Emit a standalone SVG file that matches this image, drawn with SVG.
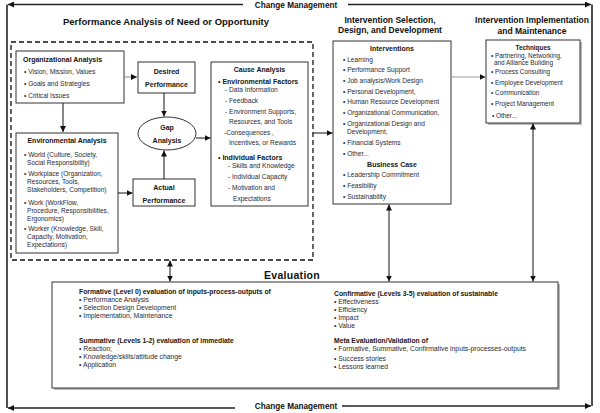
<svg xmlns="http://www.w3.org/2000/svg" width="600" height="413" viewBox="0 0 600 413">
<style>
text{font-family:"Liberation Sans",Arial,sans-serif;fill:#2a2a35}
.b{font-weight:bold;fill:#151515}
.t9{font-size:9.5px;font-weight:bold;fill:#111}
.t8{font-size:8.5px;font-weight:bold;fill:#111}
.cm{font-size:8.2px;font-weight:bold;fill:#111}
.s7{font-size:7px}
.s66{font-size:6.6px}
.s65{font-size:6.4px}
.s68{font-size:6.8px}
.m{text-anchor:middle}
.box{fill:#fff;stroke:#333;stroke-width:1}
.shadow{fill:#b8b8b8}
.ln{stroke:#111;stroke-width:1;fill:none}
.gl{stroke:#999;stroke-width:1.2;fill:none}
.fr{stroke:#222;stroke-width:1.6;fill:none}
.dash{fill:none;stroke:#111;stroke-width:1.3;stroke-dasharray:5 3}
</style>
<defs>
<marker id="ah" viewBox="0 0 6 6" refX="6" refY="3" markerWidth="6" markerHeight="6" markerUnits="userSpaceOnUse" orient="auto-start-reverse">
<path d="M0,0 L6,3 L0,6 z" fill="#111"/>
</marker>
</defs>
<rect width="600" height="413" fill="#fff"/>

<g id="frame">
<line class="fr" x1="243" y1="4.5" x2="8" y2="4.5" marker-end="url(#ah)"/>
<line class="fr" x1="348" y1="4.5" x2="591" y2="4.5" marker-end="url(#ah)"/>
<line class="fr" x1="7" y1="4.5" x2="7" y2="408"/>
<line class="fr" x1="592" y1="4.5" x2="592" y2="406"/>
<line class="fr" x1="235" y1="408" x2="8" y2="408" marker-end="url(#ah)"/>
<line class="fr" x1="342" y1="406" x2="591" y2="406" marker-end="url(#ah)"/>
<text class="cm m" x="296" y="7.5">Change Management</text>
<text class="cm m" x="296" y="408.5">Change Management</text>
</g>

<g id="titles">
<text class="t9 m" x="166" y="24.5">Performance Analysis of Need or Opportunity</text>
<text class="t8 m" x="390" y="22.5">Intervention Selection,</text>
<text class="t8 m" x="390" y="33">Design, and Development</text>
<text class="t8 m" x="532" y="23">Intervention Implementation</text>
<text class="t8 m" x="532" y="33.5">and Maintenance</text>
</g>

<rect id="performance-analysis-area" class="dash" x="11" y="42" width="302" height="218"/>

<g id="organizational-analysis">
<rect class="box" x="16" y="51" width="108" height="52"/>
<text class="b s7" x="23" y="61.5">Organizational Analysis</text>
<text class="s66" x="24" y="73.5">• Vision, Mission, Values</text>
<text class="s66" x="24" y="85.5">• Goals and Strategies</text>
<text class="s66" x="24" y="98">• Critical Issues</text>
</g>

<g id="desired-performance">
<rect class="box" x="138" y="62" width="57" height="31"/>
<text class="b s7 m" x="166.5" y="73.5">Desired</text>
<text class="b s7 m" x="166.5" y="86.5">Performance</text>
</g>

<g id="gap-analysis">
<ellipse cx="167" cy="133.5" rx="29" ry="16.5" fill="#fff" stroke="#333" stroke-width="1"/>
<text class="b s7 m" x="167" y="129.5">Gap</text>
<text class="b s7 m" x="167" y="142.5">Analysis</text>
</g>

<g id="environmental-analysis">
<rect class="box" x="16" y="133" width="102" height="120"/>
<text class="b s7 m" x="67" y="142.5">Environmental Analysis</text>
<text class="s66" x="24" y="156.5">• World (Culture, Society,</text>
<text class="s66" x="27" y="164.5">Social Responsibility)</text>
<text class="s66" x="24" y="175.5">• Workplace (Organization,</text>
<text class="s66" x="27" y="183.5">Resources, Tools,</text>
<text class="s66" x="27" y="192">Stakeholders, Competition)</text>
<text class="s66" x="24" y="204.5">• Work (WorkFlow,</text>
<text class="s66" x="27" y="212.5">Procedure, Responsibilities,</text>
<text class="s66" x="27" y="221">Ergonomics)</text>
<text class="s66" x="24" y="230.5">• Worker (Knowledge, Skill,</text>
<text class="s66" x="27" y="238.5">Capacity, Motivation,</text>
<text class="s66" x="27" y="247">Expectations)</text>
</g>

<g id="actual-performance">
<rect class="box" x="133" y="179" width="62" height="27"/>
<text class="b s7 m" x="164" y="189.5">Actual</text>
<text class="b s7 m" x="164" y="202.5">Performance</text>
</g>

<g id="cause-analysis">
<rect class="box" x="211" y="62" width="97" height="144"/>
<text class="b s7 m" x="259.5" y="71.5">Cause Analysis</text>
<text class="b s7" x="218" y="84">• Environmental Factors</text>
<text class="s66" x="225" y="91.5">- Data Information</text>
<text class="s66" x="225" y="102.5">- Feedback</text>
<text class="s66" x="225" y="113.5">- Environment Supports,</text>
<text class="s66" x="229" y="124">Resources, and Tools</text>
<text class="s66" x="224" y="135">-Consequences ,</text>
<text class="s66" x="229" y="145">Incentives, or Rewards</text>
<text class="b s7" x="218" y="160">• Individual Factors</text>
<text class="s66" x="228" y="168">- Skills and Knowledge</text>
<text class="s66" x="228" y="179">- Individual Capacity</text>
<text class="s66" x="228" y="189.5">- Motivation and</text>
<text class="s66" x="233" y="200.5">Expectations</text>
</g>

<g id="interventions">
<rect class="box" x="333" y="41" width="118" height="163"/>
<text class="b s7 m" x="392" y="50.5">Interventions</text>
<text class="s66" x="343" y="61.7">• Learning</text>
<text class="s66" x="343" y="72.4">• Performance Support</text>
<text class="s66" x="343" y="83.1">• Job analysis/Work Design</text>
<text class="s66" x="343" y="93.7">• Personal Development,</text>
<text class="s66" x="343" y="104.1">• Human Resource Development</text>
<text class="s66" x="343" y="115.1">• Organizational Communication,</text>
<text class="s66" x="343" y="126.1">• Organizational Design and</text>
<text class="s66" x="347" y="134.1">Development,</text>
<text class="s66" x="343" y="145.1">• Financial Systems</text>
<text class="s66" x="343" y="155.7">• Other...</text>
<text class="b s7 m" x="392" y="166.5">Business Case</text>
<text class="s66" x="343" y="177.1">• Leadership Commitment</text>
<text class="s66" x="343" y="188.1">• Feasibility</text>
<text class="s66" x="343" y="199.1">• Sustainability</text>
</g>

<g id="techniques">
<rect class="shadow" x="488" y="42" width="94" height="83"/>
<rect class="box" x="486" y="40" width="94" height="83"/>
<text class="b s65 m" x="533" y="50.2">Techniques</text>
<text class="s65" x="491" y="58.2">• Partnering, Networking,</text>
<text class="s65" x="494" y="64.5">and Alliance Building</text>
<text class="s65" x="491" y="74.2">• Process Consulting</text>
<text class="s65" x="491" y="84.5">• Employee Development</text>
<text class="s65" x="491" y="95.2">• Communication</text>
<text class="s65" x="491" y="106.2">• Project Management</text>
<text class="s65" x="492" y="118.2">• Other...</text>
</g>

<g id="evaluation">
<text class="m" x="292" y="279" style="font-size:10.5px;font-weight:bold;fill:#111;letter-spacing:0.3px">Evaluation</text>
<rect class="shadow" x="54" y="284" width="506" height="106"/>
<rect class="box" x="52" y="282" width="506" height="106"/>
<text class="b s68" x="79" y="293.5">Formative (Level 0) evaluation of inputs-process-outputs of</text>
<text class="s68" x="79" y="301.5">• Performance Analysis</text>
<text class="s68" x="79" y="309.5">• Selection Design Development</text>
<text class="s68" x="79" y="317.5">• Implementation, Maintenance</text>
<text class="b s68" x="79" y="342.5">Summative (Levels 1-2) evaluation of immediate</text>
<text class="s68" x="79" y="350.5">• Reaction;</text>
<text class="s68" x="79" y="359">• Knowledge/skills/attitude change</text>
<text class="s68" x="79" y="366.5">• Application</text>
<text class="b s68" x="334" y="296.2">Confirmative (Levels 3-5) evaluation of sustainable</text>
<text class="s68" x="334" y="304.2">• Effectiveness</text>
<text class="s68" x="334" y="311.8">• Efficiency</text>
<text class="s68" x="334" y="319.7">• Impact</text>
<text class="s68" x="334" y="327.7">• Value</text>
<text class="b s68" x="334" y="342.5">Meta Evaluation/Validation of</text>
<text class="s68" x="334" y="351.4">• Formative, Summative, Confirmative inputs-processes-outputs</text>
<text class="s68" x="334" y="360.7">• Success stories</text>
<text class="s68" x="334" y="369">• Lessons learned</text>
</g>

<g id="connectors">
<line class="gl" x1="124" y1="77" x2="137" y2="77" marker-end="url(#ah)"/>
<line class="ln" x1="63" y1="103" x2="63" y2="132" marker-end="url(#ah)"/>
<line class="ln" x1="164" y1="93" x2="164" y2="116.5" marker-end="url(#ah)"/>
<line class="ln" x1="164" y1="179" x2="164" y2="150.5" marker-end="url(#ah)"/>
<line class="ln" x1="196" y1="138" x2="210.5" y2="138" marker-end="url(#ah)"/>
<line class="ln" x1="118" y1="193" x2="132.5" y2="193" marker-end="url(#ah)"/>
<line class="ln" x1="313" y1="133" x2="332.5" y2="133" marker-end="url(#ah)"/>
<line class="gl" x1="451" y1="77" x2="485.5" y2="77" marker-end="url(#ah)"/>
<line class="ln" x1="389" y1="204.5" x2="389" y2="281.5" marker-start="url(#ah)" marker-end="url(#ah)"/>
<line class="ln" x1="533" y1="123.5" x2="533" y2="281.5" marker-start="url(#ah)" marker-end="url(#ah)"/>
<line class="ln" x1="170" y1="260.5" x2="170" y2="281.5" marker-start="url(#ah)" marker-end="url(#ah)"/>
</g>
</svg>
